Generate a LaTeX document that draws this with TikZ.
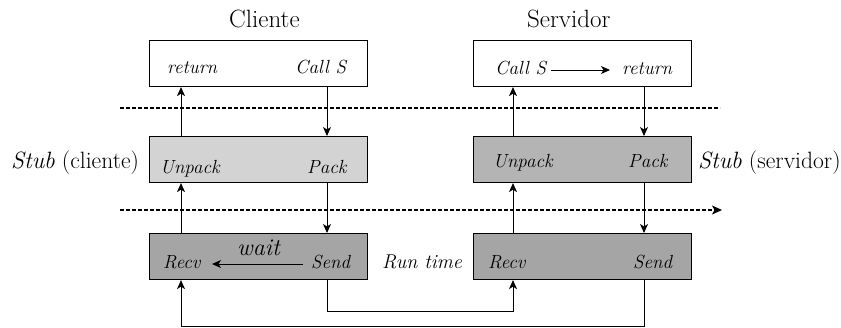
\documentclass[tikz,border=0pt]{standalone}
\usepackage{fontspec}
\usetikzlibrary{arrows.meta}
\definecolor{stubc}{RGB}{211,211,211}
\definecolor{stubs}{RGB}{180,180,180}
\definecolor{rtc}{RGB}{165,165,165}
\begin{document}
\begin{tikzpicture}[x=1pt,y=-1pt,
  box/.style={draw, line width=1.1pt, minimum width=218pt, minimum height=46pt, anchor=north west, inner sep=0pt},
  lbl/.style={anchor=base west, inner sep=0pt, font=\fontsize{19}{22}\selectfont\itshape},
  big/.style={anchor=base west, inner sep=0pt, font=\fontsize{25}{30}\selectfont},
  side/.style={anchor=base west, inner sep=0pt, font=\fontsize{23.6}{28}\selectfont},
  arr/.style={line width=0.9pt, -{Stealth[length=9pt,width=8pt,inset=2.5pt]}},
  dash line/.style={line width=1.2pt, dash pattern=on 4pt off 2pt}]
\useasboundingbox (0,0) rectangle (841,327);
% boxes
\node[box] (ctop) at (149,40) {};
\node[box, fill=stubc] (cstub) at (149,136) {};
\node[box, fill=rtc] (crt) at (149,233) {};
\node[box] (stop) at (473,40) {};
\node[box, fill=stubs] (sstub) at (473,136) {};
\node[box, fill=rtc] (srt) at (473,233) {};
% column coordinates
\coordinate (cL) at (181,0);
\coordinate (cR) at (327,0);
\coordinate (sL) at (513,0);
\coordinate (sR) at (644,0);
% headings
\node[big] (cliente) at (229,27) {Cliente};
\node[big] (servidor) at (527,27) {Servidor};
\node[side] (stubcl) at (11,168) {\textit{Stub} (cliente)};
\node[side] (stubsv) at (698,168) {\textit{Stub} (servidor)};
\node[side, font=\fontsize{20}{24}\selectfont\itshape] (runtime) at (382,268) {Run time};
% labels
\node[lbl] (cret) at (167,73) {return};
\node[lbl] (ccall) at (295,73) {Call S};
\node[lbl] (scall) at (495,74) {Call S};
\node[lbl] (sret) at (622,74) {return};
\node[lbl] (cunp) at (160,173) {Unpack};
\node[lbl] (cpack) at (307,173) {Pack};
\node[lbl] (sunp) at (493,167) {Unpack};
\node[lbl] (spack) at (628,167) {Pack};
\node[lbl] (crecv) at (163,268) {Recv};
\node[lbl] (csend) at (311,268) {Send};
\node[lbl, font=\fontsize{24}{28}\selectfont\itshape] (wait) at (237,255) {wait};
\node[lbl] (srecv) at (488,268) {Recv};
\node[lbl] (ssend) at (633,268) {Send};
% dashed separators
\coordinate (d1a) at (120,108);
\coordinate (d1b) at (720,108);
\coordinate (d2a) at (120,210);
\coordinate (d2b) at (722,210);
\draw[dash line] (d1a) -- (d1b);
\draw[dash line, -{Stealth[length=10pt,width=9pt,inset=2.5pt]}] (d2a) -- (d2b);
% inner arrows
\coordinate (sa1) at (551,70);
\coordinate (sa2) at (610,70);
\draw[arr] (sa1) -- (sa2);
\coordinate (wa1) at (303,264);
\coordinate (wa2) at (212,264);
\draw[arr] (wa1) -- (wa2);
% vertical arrows, client
\draw[arr] (cstub.north -| cL) -- (ctop.south -| cL);
\draw[arr] (ctop.south -| cR) -- (cstub.north -| cR);
\draw[arr] (crt.north -| cL) -- (cstub.south -| cL);
\draw[arr] (cstub.south -| cR) -- (crt.north -| cR);
% vertical arrows, server
\draw[arr] (sstub.north -| sL) -- (stop.south -| sL);
\draw[arr] (stop.south -| sR) -- (sstub.north -| sR);
\draw[arr] (srt.north -| sL) -- (sstub.south -| sL);
\draw[arr] (sstub.south -| sR) -- (srt.north -| sR);
% bottom connectors
\draw[arr] (crt.south -| cR) -- ++(0,31) -| (srt.south -| sL);
\draw[arr] (srt.south -| sR) -- ++(0,46) -| (crt.south -| cL);
\end{tikzpicture}
\end{document}
